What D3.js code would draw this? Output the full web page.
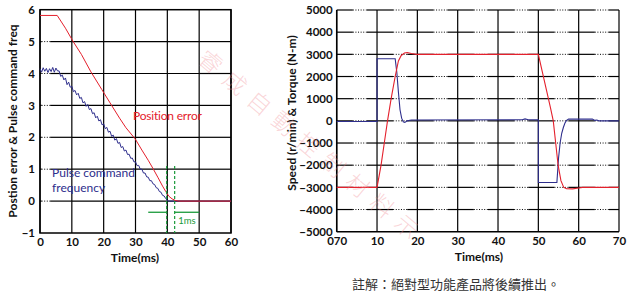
<!DOCTYPE html>
<html>
<head>
<meta charset="utf-8">
<script src="https://cdn.jsdelivr.net/npm/d3@7"></script>
<style>
  html, body { margin: 0; padding: 0; background: #fff; }
  svg { display: block; }
</style>
</head>
<body>
<svg id="chart" width="631" height="303"></svg>
<script>
// ---------------- DATA ----------------
// Left chart
const leftXTicks = [0, 10, 20, 30, 40, 50, 60];
const leftYTicks = [-1, 0, 1, 2, 3, 4, 5, 6];

const posErrT = [0, 5.4, 8, 10.3, 13, 16, 19.4, 22, 25, 27, 29.9, 32, 34, 35.5, 37, 38.5, 39.5, 40.5, 41.5, 42.5, 43.5, 60];
const posErrV = [5.82, 5.82, 5.42, 5.02, 4.6, 4.05, 3.5, 3.08, 2.6, 2.3, 1.95, 1.6, 1.28, 1.02, 0.75, 0.47, 0.3, 0.15, 0.07, 0.02, 0, 0];

const pulseT = [0, 0.5, 1, 1.5, 2, 2.5, 3, 3.5, 4, 4.5, 5, 5.5, 6, 6.5, 7, 7.5, 8, 8.5, 9, 9.5,
  10, 10.5, 11, 11.5, 12, 12.5, 13, 13.5, 14, 14.5, 15, 15.5, 16, 16.5, 17, 17.5, 18, 18.5, 19, 19.5,
  20, 20.5, 21, 21.5, 22, 22.5, 23, 23.5, 24, 24.5, 25, 25.5, 26, 26.5, 27, 27.5, 28, 28.5, 29, 29.5,
  30, 30.5, 31, 31.5, 32, 32.5, 33, 33.5, 34, 34.5, 35, 35.5, 36, 36.5, 37, 37.5, 38, 38.5, 39, 39.5,
  40, 40.5, 60];
const pulseV = [4.15, 4.04, 4.18, 4.07, 4.16, 4.03, 4.15, 4.06, 4.19, 4.04, 4.17, 4.08, 4.08, 3.91, 3.95, 3.80, 3.86, 3.65, 3.73, 3.57,
  3.60, 3.43, 3.47, 3.33, 3.38, 3.22, 3.25, 3.08, 3.12, 2.97, 3.03, 2.87, 2.90, 2.74, 2.77, 2.61, 2.66, 2.51, 2.55, 2.39,
  2.42, 2.27, 2.31, 2.16, 2.19, 2.03, 2.07, 1.91, 1.96, 1.81, 1.84, 1.68, 1.71, 1.57, 1.60, 1.46, 1.47, 1.34, 1.35, 1.23,
  1.23, 1.11, 1.12, 1.00, 1.00, 0.88, 0.88, 0.76, 0.75, 0.64, 0.64, 0.54, 0.52, 0.42, 0.40, 0.30, 0.28, 0.18, 0.16, 0.08,
  0.02, 0, 0];

// Right chart
const rightXTicks = [0, 10, 20, 30, 40, 50, 60, 70];
const rightXLabels = ["070", "10", "20", "30", "40", "50", "60", "70"];
const rightYTicks = [-5000, -4000, -3000, -2000, -1000, 0, 1000, 2000, 3000, 4000, 5000];

const speedT = [0, 10, 11, 11.8, 12.6, 13.5, 14.5, 15.3, 16, 16.8, 17.5, 18.5, 19.8, 50, 51, 52, 53, 53.7, 54.3, 54.9, 55.6, 56.3, 57, 58.5, 60, 61, 70];
const speedV = [-3000, -3000, -2000, -1000, 0, 1000, 2000, 2700, 2950, 3060, 3080, 3040, 3000, 3000, 2200, 1400, 600, 0, -1000, -2000, -2700, -3000, -3060, -3070, -3030, -3000, -3000];

const torqueT = [0, 10, 10, 14.5, 14.9, 15.3, 15.7, 16.1, 16.5, 16.9, 17.5, 18.5, 46, 46.7, 47.5, 49.9, 50, 50, 54.6, 55, 55.4, 55.8, 56.2, 56.6, 57, 57.5, 63.4, 64, 64.5, 65, 70];
const torqueV = [-30, -30, 2800, 2800, 2200, 1300, 500, 120, -40, -70, 0, 40, 50, 90, 50, 50, 50, -2780, -2780, -1700, -1000, -560, -300, -100, 20, 80, 80, 20, 40, 0, 0];

// Texts
const leftYLabel = "Postion error & Pulse command freq";
const rightYLabel = "Speed (r/min) & Torque (N-m)";
const xLabel = "Time(ms)";
const posErrLabel = "Position error";
const pulseLabel = ["Pulse command", "frequency"];
const msLabel = "1ms";
const caption = "註解：絕對型功能產品將後續推出。";
const watermark = "睿成自動控制材料示";
const msMarks = [39.8, 42.3];

// ---------------- DRAW ----------------
const svg = d3.select("#chart");
const RED = "#e4202c", BLUE = "#2e2e8c", GREEN = "#1a9a3a";
const tickFont = "Lato, 'Open Sans', sans-serif";

function hGrid(g, y, xs, dotA, dotB, cells) {
  for (let i = 0; i < xs.length - 1; i++) {
    const a = xs[i], b = xs[i + 1], w = b - a;
    if (cells(i)) {
      const d1 = a + w * dotA, d2 = a + w * dotB;
      g.append("line").attr("x1", a).attr("x2", d1).attr("y1", y).attr("y2", y).attr("stroke", "#000").attr("stroke-width", 1.2);
      g.append("line").attr("x1", d1).attr("x2", d2).attr("y1", y).attr("y2", y).attr("stroke", "#000").attr("stroke-width", 1).attr("stroke-dasharray", "1,1.6");
      g.append("line").attr("x1", d2).attr("x2", b).attr("y1", y).attr("y2", y).attr("stroke", "#000").attr("stroke-width", 1.2);
    } else {
      g.append("line").attr("x1", a).attr("x2", b).attr("y1", y).attr("y2", y).attr("stroke", "#000").attr("stroke-width", 1.2);
    }
  }
}

function styleTicks(a) {
  a.select(".domain").remove();
  a.selectAll("text").attr("font-family", tickFont).attr("font-size", 11.5).attr("font-weight", 700).attr("fill", "#111");
}

// ---- Left chart ----
const xL = d3.scaleLinear().domain([0, 60]).range([40, 231]);
const yL = d3.scaleLinear().domain([-1, 6]).range([233, 9.7]);
const gL = svg.append("g");

const xsL = leftXTicks.map(xL);
leftYTicks.forEach(v => {
  if (v === -1 || v === 6) return;
  hGrid(gL, yL(v), xsL, 0.05, 0.32, i => i === 0);
});
leftXTicks.forEach(v => {
  gL.append("line").attr("x1", xL(v)).attr("x2", xL(v)).attr("y1", yL(6)).attr("y2", yL(-1))
    .attr("stroke", "#000").attr("stroke-width", 1.2);
});
gL.append("rect").attr("x", xL(0)).attr("y", yL(6)).attr("width", xL(60) - xL(0)).attr("height", yL(-1) - yL(6))
  .attr("fill", "none").attr("stroke", "#000").attr("stroke-width", 1.5);

const lineL = d3.line().x(d => xL(d[0])).y(d => yL(d[1]));
gL.append("path").datum(pulseT.map((t, i) => [t, pulseV[i]])).attr("d", lineL)
  .attr("fill", "none").attr("stroke", BLUE).attr("stroke-width", 1);
gL.append("path").datum(posErrT.map((t, i) => [t, posErrV[i]])).attr("d", lineL)
  .attr("fill", "none").attr("stroke", RED).attr("stroke-width", 1);

// green 1ms markers
msMarks.forEach(t => {
  gL.append("line").attr("x1", xL(t)).attr("x2", xL(t)).attr("y1", yL(1.1)).attr("y2", yL(-1))
    .attr("stroke", GREEN).attr("stroke-width", 1.2).attr("stroke-dasharray", "3,2");
});
gL.append("line").attr("x1", xL(34)).attr("x2", xL(msMarks[0])).attr("y1", yL(-0.35)).attr("y2", yL(-0.35))
  .attr("stroke", GREEN).attr("stroke-width", 1.3);
gL.append("line").attr("x1", xL(msMarks[1])).attr("x2", xL(50)).attr("y1", yL(-0.35)).attr("y2", yL(-0.35))
  .attr("stroke", GREEN).attr("stroke-width", 1.3);
gL.append("text").attr("x", xL(43.4)).attr("y", yL(-0.72)).text(msLabel)
  .attr("font-family", tickFont).attr("font-size", 9.5).attr("fill", GREEN);

// labels
gL.append("text").attr("x", xL(29.2)).attr("y", yL(2.55)).text(posErrLabel)
  .attr("font-family", tickFont).attr("font-size", 12).attr("fill", RED).attr("letter-spacing", "-0.2");
pulseLabel.forEach((s, i) => {
  gL.append("text").attr("x", xL(3.8)).attr("y", yL(0.75) + i * 15).text(s)
    .attr("font-family", tickFont).attr("font-size", 12).attr("fill", BLUE);
});

// axes ticks
const axLX = gL.append("g").attr("transform", `translate(0,${yL(-1)})`)
  .call(d3.axisBottom(xL).tickValues(leftXTicks).tickFormat(d3.format("d")).tickSize(0).tickPadding(5));
const axLY = gL.append("g").attr("transform", `translate(${xL(0)},0)`)
  .call(d3.axisLeft(yL).tickValues(leftYTicks).tickFormat(d3.format("d")).tickSize(0).tickPadding(5));
styleTicks(axLX); styleTicks(axLY);
gL.append("text").attr("x", 135).attr("y", 262).attr("text-anchor", "middle").text(xLabel)
  .attr("font-family", tickFont).attr("font-size", 12).attr("font-weight", 700).attr("fill", "#111");
gL.append("text").attr("transform", "translate(17,121) rotate(-90)").attr("text-anchor", "middle").text(leftYLabel)
  .attr("font-family", tickFont).attr("font-size", 12).attr("font-weight", 700).attr("fill", "#111");

// ---- Right chart ----
const xR = d3.scaleLinear().domain([0, 70]).range([336.7, 619]);
const yR = d3.scaleLinear().domain([-5000, 5000]).range([231.7, 10]);
const gR = svg.append("g");
const xsR = rightXTicks.map(xR);
rightYTicks.forEach(v => {
  if (v === -5000) return;
  hGrid(gR, yR(v), xsR, 0.4, 0.75, i => true);
});
rightXTicks.forEach(v => {
  gR.append("line").attr("x1", xR(v)).attr("x2", xR(v)).attr("y1", yR(5000)).attr("y2", yR(-5000))
    .attr("stroke", "#000").attr("stroke-width", 1.2);
});
gR.append("line").attr("x1", xR(0)).attr("x2", xR(70)).attr("y1", yR(-5000)).attr("y2", yR(-5000))
  .attr("stroke", "#000").attr("stroke-width", 1.5);
gR.append("line").attr("x1", xR(0)).attr("x2", xR(0)).attr("y1", yR(5000)).attr("y2", yR(-5000))
  .attr("stroke", "#000").attr("stroke-width", 1.5);

const lineR = d3.line().x(d => xR(d[0])).y(d => yR(d[1]));
gR.append("path").datum(torqueT.map((t, i) => [t, torqueV[i]])).attr("d", lineR)
  .attr("fill", "none").attr("stroke", BLUE).attr("stroke-width", 1.1);
gR.append("path").datum(speedT.map((t, i) => [t, speedV[i]])).attr("d", lineR)
  .attr("fill", "none").attr("stroke", RED).attr("stroke-width", 1.1);

const axRX = gR.append("g").attr("transform", `translate(0,${yR(-5000)})`)
  .call(d3.axisBottom(xR).tickValues(rightXTicks).tickFormat((d, i) => rightXLabels[i]).tickSize(0).tickPadding(5));
const axRY = gR.append("g").attr("transform", `translate(${xR(0)},0)`)
  .call(d3.axisLeft(yR).tickValues(rightYTicks).tickFormat(d3.format("d")).tickSize(0).tickPadding(4));
styleTicks(axRX); styleTicks(axRY);
gR.append("text").attr("x", 479).attr("y", 261).attr("text-anchor", "middle").text(xLabel)
  .attr("font-family", tickFont).attr("font-size", 12).attr("font-weight", 700).attr("fill", "#111");
gR.append("text").attr("transform", "translate(296,113) rotate(-90)").attr("text-anchor", "middle").text(rightYLabel)
  .attr("font-family", tickFont).attr("font-size", 12).attr("font-weight", 700).attr("fill", "#111");

// caption
svg.append("text").attr("x", 456).attr("y", 289).attr("text-anchor", "middle").text(caption)
  .attr("font-family", "'Noto Sans CJK TC', sans-serif").attr("font-size", 13).attr("fill", "#333");

// watermark
svg.append("text").attr("transform", "translate(313,146) rotate(40)").attr("text-anchor", "middle")
  .attr("dominant-baseline", "central").text(watermark)
  .attr("font-family", "'Noto Sans CJK TC', sans-serif").attr("font-size", 23).attr("font-weight", 300).attr("letter-spacing", 9)
  .attr("fill", "#f08890").attr("fill-opacity", 0.35);
</script>
</body>
</html>
